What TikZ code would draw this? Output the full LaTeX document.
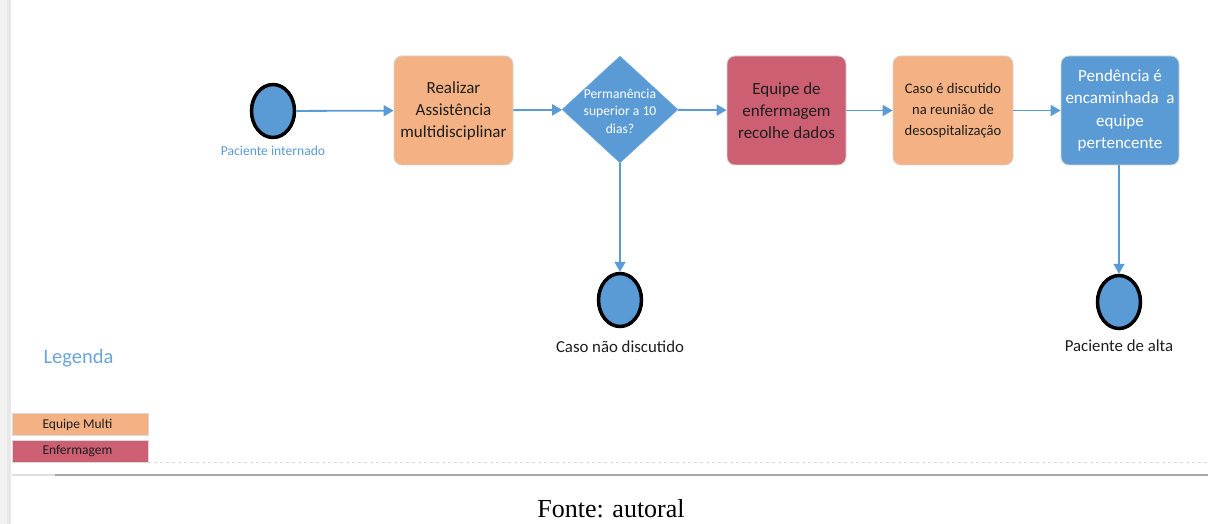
\documentclass[tikz,border=0pt]{standalone}
\usepackage{fontspec}
\setmainfont{Carlito}
\newfontfamily\capfont{Liberation Serif}
\usetikzlibrary{shapes.geometric,arrows.meta}
\definecolor{bblue}{HTML}{5B9BD5}
\definecolor{borange}{HTML}{F4B183}
\definecolor{bred}{HTML}{CD5F72}
\definecolor{btext}{HTML}{1E1E1E}
\begin{document}
\begin{tikzpicture}[x=1pt,y=-1pt,
  arr/.style={draw=bblue,line width=1.8pt,-{Triangle[length=10pt,width=11pt]}},
  procbox/.style={rectangle,rounded corners=8pt,draw=gray!35,line width=0.8pt,minimum height=109pt,inner sep=2pt,align=center,font=\fontsize{17}{22}\selectfont,text=btext},
  evt/.style={ellipse,draw=black,line width=3.5pt,fill=bblue,minimum width=43pt,minimum height=53pt,inner sep=0pt},
  evlabel/.style={font=\fontsize{16.8}{18}\selectfont,text=btext},
  legbox/.style={rectangle,draw=gray!30,line width=0.6pt,minimum width=136pt,minimum height=22pt,inner sep=0pt,text=btext}
]
\useasboundingbox (0,0) rectangle (1208,524);
\fill[white] (0,0) rectangle (1208,524);
\fill[gray!10] (0,0) rectangle (11,524);
\fill[gray!18] (7,0) rectangle (11,524);

% nodes
\node[evt] (start) at (273,111) {};
\node[font=\fontsize{13.6}{15}\selectfont,text=bblue] (startlbl) at (273,151) {Paciente internado};
\node[procbox,fill=borange,minimum width=119pt] (b1) at (453.5,110.5) {Realizar\\Assistência\\multidisciplinar};
\node[diamond,fill=bblue,draw=bblue!80,minimum width=116pt,minimum height=107pt,inner sep=0pt] (dia) at (620,109.5) {};
\node[align=center,text=white,font=\fontsize{13.6}{17.5}\selectfont] (dialbl) at (620,111) {Permanência\\superior a 10\\dias?};
\node[procbox,fill=bred,minimum width=119pt] (b2) at (786.5,110.5) {Equipe de\\enfermagem\\recolhe dados};
\node[procbox,fill=borange,minimum width=120pt,font=\fontsize{14.6}{21}\selectfont] (b3) at (953,110.5) {Caso é discutido\\na reunião de\\desospitalização};
\node[procbox,fill=bblue,minimum width=118pt,text=white,font=\fontsize{17}{22.5}\selectfont] (b4) at (1120,110.5) {Pendência é\\encaminhada~~a\\equipe\\pertencente};
\node[evt] (end1) at (620,300) {};
\node[evlabel] (end1lbl) at (620,347) {Caso não discutido};
\node[evt] (end2) at (1119,302) {};
\node[evlabel] (end2lbl) at (1119,346) {Paciente de alta};

% connectors
\draw[arr] (start) -- (b1);
\draw[arr] (b1) -- (dia);
\draw[arr] (dia) -- (b2);
\draw[arr] (b2) -- (b3);
\draw[arr] (b3) -- (b4);
\draw[arr] (dia.south) -- (end1.north);
\draw[arr] (b4.south -| end2) -- (end2.north);

% legend
\node[anchor=west,text=bblue!90,font=\fontsize{20.5}{22}\selectfont] (leg) at (40,358) {Legenda};
\node[legbox,fill=borange,anchor=north west] (legA) at (12,413) {};
\node[anchor=west,text=btext,font=\fontsize{13.5}{15}\selectfont] (legAt) at (39,424.5) {Equipe Multi};
\node[legbox,fill=bred,anchor=north west] (legB) at (12,440) {};
\node[anchor=west,text=btext,font=\fontsize{13.5}{15}\selectfont] (legBt) at (39,451) {Enfermagem};

\draw[gray!30,dashed,line width=0.8pt] (148,462) -- (1208,462);
\draw[gray!25,line width=2.5pt] (12,475) -- (60,475);
\draw[gray!70,line width=2.5pt] (55,475) -- (1208,475);

\node[font=\capfont\fontsize{26}{28}\selectfont] (cap) at (611,509) {Fonte: autoral};
\end{tikzpicture}
\end{document}
